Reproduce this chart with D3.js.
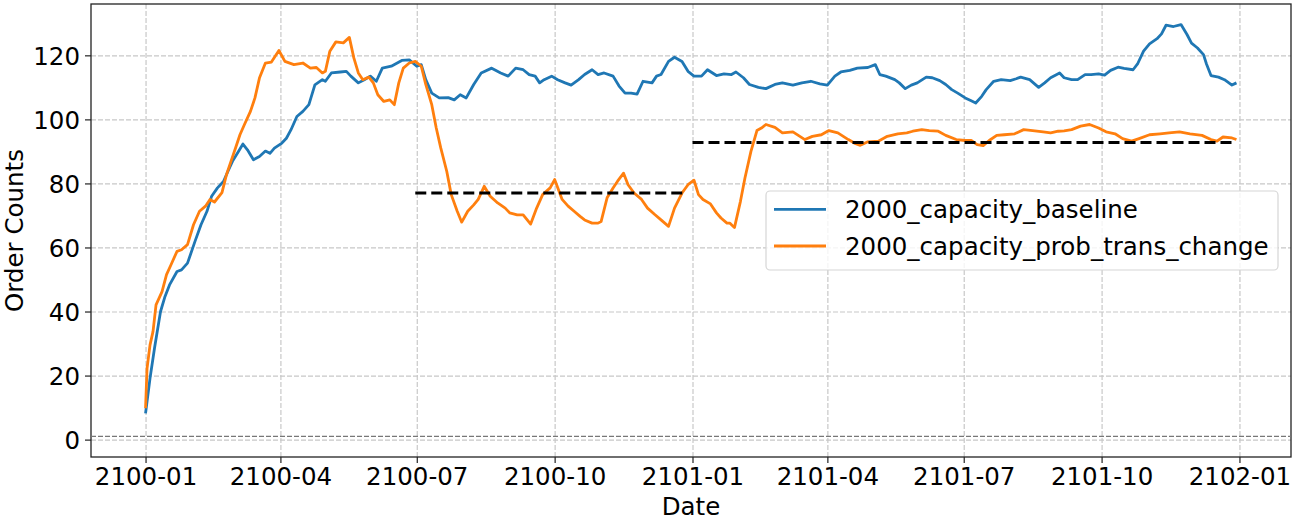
<!DOCTYPE html>
<html lang="en">

<head>
  <meta charset="UTF-8">
  <title>Order Counts</title>
  <script src="https://d3js.org/d3.v7.min.js"></script>
  <style>
    body { margin: 0; background: white; }
    text { font-family: 'DejaVu Sans', sans-serif; }
  </style>
</head>

<body>
  <svg id='orders' width=1296 height=520></svg>

  <script>
    //data: [day since 2100-01-01, order count]
    const baseline = [
      [0, 8.2], [3, 19.2], [6, 28.6], [10, 40], [13, 44.7], [16, 48.3], [21, 52.5], [24, 53], [28, 55.1],
      [33, 61.9], [37, 67.1], [41, 71.3], [44, 75.9], [48, 78.6], [52, 80.6], [55, 83.8], [58, 86.9],
      [62, 90], [65, 92.3], [68, 90.5], [72, 87.4], [76, 88.4], [80, 90.1], [83, 89.4], [86, 91],
      [91, 92.6], [94, 94.1], [97, 96.7], [101, 100.9], [105, 102.5], [109, 104.6], [113, 110.8],
      [118, 112.4], [120, 111.9], [124, 114.5], [130, 114.8], [134, 115], [137, 113.5], [142, 111.4],
      [146, 112.4], [150, 113.5], [154, 111.9], [158, 116], [164, 116.6], [171, 118.4], [176, 118.6],
      [181, 116.6], [184, 117.1], [187, 112.4], [191, 108.2], [196, 106.7], [202, 106.8], [206, 106.1],
      [210, 107.7], [214, 106.7], [219, 110.9], [224, 114.5], [231, 116], [237, 114.5], [242, 113.5],
      [247, 116], [252, 115.5], [256, 114], [260, 113.5], [263, 111.4], [266, 112.4], [271, 113.5],
      [275, 112.4], [280, 111.4], [284, 110.7], [289, 112.4], [293, 114], [298, 115.5], [302, 114],
      [306, 114.5], [312, 113.5], [316, 110.4], [320, 108.2], [324, 108.2], [328, 107.9], [332, 111.9],
      [338, 111.4], [341, 113.5], [344, 114], [349, 118.1], [353, 119.4], [358, 118.1], [362, 115],
      [366, 113.5], [371, 113.5], [375, 115.5], [381, 113.7], [386, 114.2], [391, 114], [394, 114.8],
      [399, 113], [403, 110.9], [409, 110], [414, 109.6], [420, 110.9], [425, 111.4], [432, 110.7],
      [438, 111.4], [444, 111.9], [450, 111.1], [455, 110.7], [460, 113.5], [464, 114.8], [470, 115.3],
      [475, 116], [482, 116.2], [487, 117.1], [490, 114], [494, 113.5], [500, 112.4], [503, 111.4],
      [507, 109.6], [511, 110.7], [515, 111.4], [521, 113.2], [525, 113], [530, 112.1], [534, 110.9],
      [538, 109.3], [542, 108.2], [547, 106.7], [551, 105.8], [554, 105.1], [558, 107.2], [561, 109.3],
      [566, 111.9], [571, 112.4], [577, 112.1], [581, 112.7], [584, 113.2], [590, 112.4], [596, 110],
      [600, 111.4], [604, 113], [610, 114.5], [613, 113], [618, 112.4], [622, 112.4], [627, 114],
      [631, 114], [636, 114.2], [640, 113.8], [644, 115.3], [649, 116.3], [653, 115.9], [659, 115.5],
      [662, 117.3], [666, 121.3], [670, 123.6], [675, 125.2], [678, 126.7], [681, 129.4], [686, 129],
      [691, 129.6], [695, 126.5], [698, 123.8], [702, 122.3], [706, 120.2], [708, 117.3], [711, 113.7],
      [716, 113.2], [720, 112.4], [725, 110.7], [728, 111.4]
    ];

    const probTransChange = [
      [0, 9.8], [1, 22.3], [3, 29.6], [5, 33.8], [7, 42.1], [11, 46.2], [14, 51.5], [17, 54.6], [21, 58.8],
      [24, 59.3], [28, 60.9], [32, 67.1], [36, 71.3], [40, 72.9], [43, 75], [46, 74.2], [51, 77.1],
      [54, 82.7], [57, 86.9], [60, 91], [63, 95.2], [66, 98.4], [70, 102.5], [73, 106.7], [76, 112.9],
      [80, 117.6], [84, 117.9], [89, 121.5], [93, 118.1], [99, 117.1], [105, 117.6], [110, 116],
      [114, 116.2], [118, 114.5], [120, 115], [123, 121.3], [127, 124.2], [132, 123.9], [136, 125.6],
      [139, 119.2], [142, 114.5], [145, 112.4], [149, 113.2], [152, 111.4], [155, 107.7], [159, 105.6],
      [163, 106.1], [166, 104.6], [169, 111.4], [172, 116], [176, 117.6], [180, 118.1], [184, 116.6],
      [187, 110.9], [191, 104.6], [194, 97.3], [197, 91.1], [201, 83.8], [204, 76.5], [208, 71.3],
      [211, 67.9], [215, 71.3], [219, 73.3], [222, 75], [226, 79.1], [230, 76], [235, 73.9], [240, 72.3],
      [243, 70.8], [248, 70.2], [252, 70.2], [257, 67.3], [261, 72.3], [265, 76.5], [270, 78.6],
      [273, 81.2], [278, 75], [282, 72.9], [286, 71.3], [290, 69.7], [293, 68.6], [298, 67.6], [302, 67.6],
      [304, 68.1], [308, 75.5], [312, 78.6], [315, 80.7], [319, 83.2], [322, 79.6], [326, 77], [331, 75],
      [335, 72.3], [340, 70.2], [344, 68.6], [349, 66.6], [353, 72.3], [358, 77], [362, 79.6], [366, 81],
      [369, 76.5], [372, 75], [377, 73.6], [381, 70.8], [384, 69.2], [388, 67.6], [390, 67.6], [393, 66.2],
      [397, 74.4], [400, 81.7], [404, 90], [408, 96.5], [411, 97.3], [414, 98.4], [420, 97.5], [425, 95.8],
      [432, 96.1], [440, 93.7], [445, 94.7], [451, 95.2], [456, 96.5], [462, 95.8], [469, 93.7],
      [473, 92.6], [477, 91.9], [482, 93], [489, 93.2], [495, 94.7], [502, 95.5], [508, 95.8], [512, 96.3],
      [518, 96.8], [523, 96.5], [529, 96.3], [534, 95], [541, 93.7], [547, 93.4], [551, 93.4], [555, 92.1],
      [559, 91.8], [563, 93.4], [568, 95], [573, 95.2], [580, 95.5], [586, 96.8], [592, 96.5], [599, 96.1],
      [604, 95.8], [609, 96.3], [613, 96.4], [618, 96.8], [624, 97.9], [630, 98.4], [636, 97.3],
      [641, 96.1], [647, 95.5], [652, 94], [658, 93.2], [663, 94], [670, 95.2], [677, 95.5], [683, 95.8],
      [690, 96.1], [697, 95.5], [705, 95], [711, 93.7], [715, 93.2], [719, 94.5], [725, 94.2], [728, 93.7]
    ];

    //period means (dashed black lines)
    const meanStart = [180, 365];
    const meanEnd = [361, 728];
    const meanValue = [77.0, 92.8];

    //thin grey reference line
    const refLevel = 1;

    const seriesNames = ['2000_capacity_baseline', '2000_capacity_prob_trans_change'];
    const seriesColors = ['#1f77b4', '#ff7f0e'];
    const yTicks = [0, 20, 40, 60, 80, 100, 120];

    const fontSize = '24.5px';

    //setting up the svg
    const svg = d3.select('svg#orders');
    const width = +svg.attr('width');
    const height = +svg.attr('height');
    const margin = { top: 4, right: 5, bottom: 63, left: 91 };
    const chartWidth = width - margin.left - margin.right;
    const chartHeight = height - margin.top - margin.bottom;

    let annotations = svg.append('g').attr('id', 'annotations');
    let chartArea = svg.append('g').attr('id', 'lines')
      .attr('transform', 'translate(' + margin.left + ', ' + margin.top + ')');

    const start = Date.UTC(2100, 0, 1);
    const toDate = (day) => new Date(start + day * 86400000);

    //scales, padded 5% like matplotlib
    const dayExtent = d3.extent(baseline.concat(probTransChange), d => d[0]);
    const dayPad = (dayExtent[1] - dayExtent[0]) * 0.05;
    const dateScale = d3.scaleUtc()
      .domain([toDate(dayExtent[0] - dayPad), toDate(dayExtent[1] + dayPad)])
      .range([0, chartWidth]);

    const yMin = Math.min(refLevel, d3.min(baseline.concat(probTransChange), d => d[1]));
    const yMax = d3.max(baseline.concat(probTransChange), d => d[1]);
    const yPad = (yMax - yMin) * 0.05;
    const countScale = d3.scaleLinear().domain([yMin - yPad, yMax + yPad]).range([chartHeight, 0]);

    //gridlines
    let bottomGridlines = d3.axisBottom(dateScale)
      .ticks(d3.utcMonth.every(3))
      .tickSize(-chartHeight)
      .tickFormat('');
    let leftGridlines = d3.axisLeft(countScale)
      .tickValues(yTicks)
      .tickSize(-chartWidth)
      .tickFormat('');

    let gx = annotations.append('g')
      .attr('class', 'x-gridlines')
      .attr('transform', 'translate(' + margin.left + ', ' + (chartHeight + margin.top) + ')')
      .call(bottomGridlines);
    let gy = annotations.append('g')
      .attr('class', 'y-gridlines')
      .attr('transform', 'translate(' + margin.left + ', ' + margin.top + ')')
      .call(leftGridlines);
    [gx, gy].forEach(g => {
      g.select('.domain').remove();
      g.selectAll('line')
        .attr('stroke', '#c8c8c8')
        .attr('stroke-width', 1.2)
        .attr('stroke-dasharray', '5,2');
    });

    //reference line at 1
    chartArea.append('line')
      .attr('x1', 0).attr('x2', chartWidth)
      .attr('y1', countScale(refLevel)).attr('y2', countScale(refLevel))
      .attr('stroke', '#777')
      .attr('stroke-width', 1.2)
      .attr('stroke-dasharray', '5,2');

    //series
    const line = d3.line()
      .x(d => dateScale(toDate(d[0])))
      .y(d => countScale(d[1]));

    [baseline, probTransChange].forEach((series, i) => {
      chartArea.append('path')
        .datum(series)
        .attr('fill', 'none')
        .attr('stroke', seriesColors[i])
        .attr('stroke-width', 2.8)
        .attr('stroke-linejoin', 'round')
        .attr('d', line);
    });

    //period mean lines
    meanValue.forEach((v, i) => {
      chartArea.append('line')
        .attr('x1', dateScale(toDate(meanStart[i])))
        .attr('x2', dateScale(toDate(meanEnd[i])))
        .attr('y1', countScale(v)).attr('y2', countScale(v))
        .attr('stroke', 'black')
        .attr('stroke-width', 3)
        .attr('stroke-dasharray', '11,5');
    });

    //axes
    let bottomAxis = d3.axisBottom(dateScale)
      .ticks(d3.utcMonth.every(3))
      .tickFormat(d3.utcFormat('%Y-%m'))
      .tickSizeOuter(0)
      .tickSize(6)
      .tickPadding(5);
    let leftAxis = d3.axisLeft(countScale)
      .tickValues(yTicks)
      .tickSizeOuter(0)
      .tickSize(6)
      .tickPadding(5);

    let xAxis = annotations.append('g')
      .attr('class', 'x-axis')
      .attr('transform', 'translate(' + margin.left + ', ' + (chartHeight + margin.top) + ')')
      .call(bottomAxis);
    let yAxis = annotations.append('g')
      .attr('class', 'y-axis')
      .attr('transform', 'translate(' + margin.left + ', ' + margin.top + ')')
      .call(leftAxis);
    [xAxis, yAxis].forEach(g => {
      g.select('.domain').remove();
      g.selectAll('line').attr('stroke', '#222').attr('stroke-width', 1.2);
      g.selectAll('text').attr('fill', 'black').style('font-size', fontSize);
    });
    yAxis.selectAll('text').attr('dy', '0.36em');

    //frame
    annotations.append('rect')
      .attr('x', margin.left).attr('y', margin.top)
      .attr('width', chartWidth).attr('height', chartHeight)
      .attr('fill', 'none')
      .attr('stroke', '#222')
      .attr('stroke-width', 1.3);

    //axis labels
    annotations.append('text')
      .attr('x', margin.left + chartWidth / 2)
      .attr('y', 515)
      .style('text-anchor', 'middle')
      .style('font-size', fontSize)
      .text('Date');

    annotations.append('text')
      .attr('transform', 'translate(23, ' + (margin.top + chartHeight / 2) + ') rotate(-90)')
      .style('text-anchor', 'middle')
      .style('font-size', fontSize)
      .text('Order Counts');

    //legend
    let legend = svg.append('g').attr('id', 'legend');
    legend.append('rect')
      .attr('x', 766).attr('y', 191)
      .attr('width', 512).attr('height', 79)
      .attr('rx', 4)
      .attr('fill', 'white')
      .attr('fill-opacity', 0.8)
      .attr('stroke', '#d6d6d6')
      .attr('stroke-width', 1.2);

    seriesNames.forEach((name, i) => {
      const ly = 209.3 + i * 36.7;
      legend.append('line')
        .attr('x1', 774).attr('x2', 826)
        .attr('y1', ly).attr('y2', ly)
        .attr('stroke', seriesColors[i])
        .attr('stroke-width', 2.8);
      legend.append('text')
        .attr('x', 845)
        .attr('y', ly + 9)
        .style('font-size', fontSize)
        .text(name);
    });
  </script>
</body>

</html>
